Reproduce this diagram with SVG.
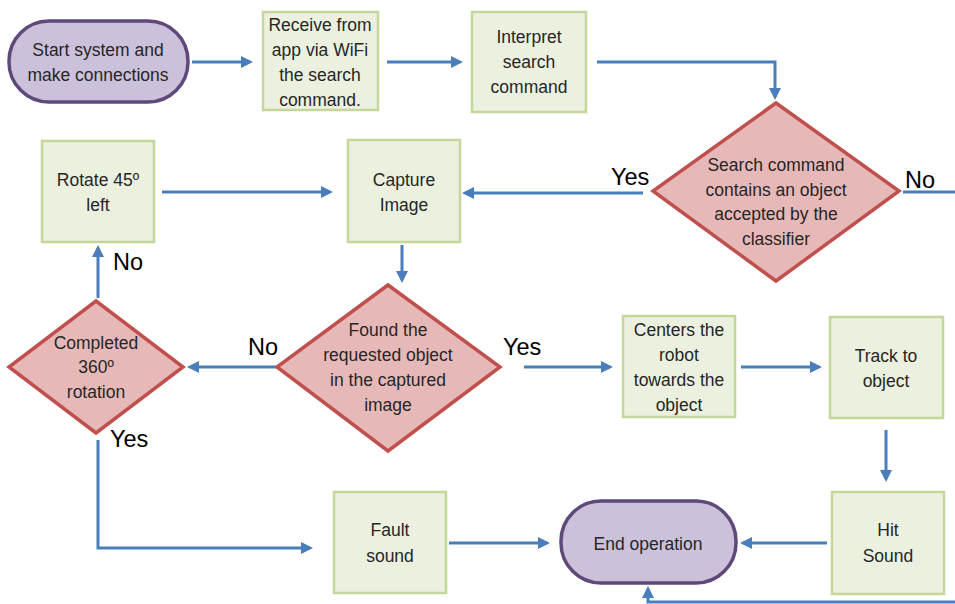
<svg xmlns="http://www.w3.org/2000/svg" width="955" height="604" viewBox="0 0 955 604">
<defs>
<marker id="ah" markerWidth="4" markerHeight="4" refX="3" refY="2" orient="auto" markerUnits="strokeWidth">
<path d="M0,0 L4,2 L0,4 z" fill="#4a7ebb"/>
</marker>
<style>
.box{fill:#ebf1de;stroke:#c3d69b;stroke-width:2.5}
.dia{fill:#e6b9b8;stroke:#c0504d;stroke-width:3.5;stroke-linejoin:miter}
.term{fill:#ccc1da;stroke:#5f497a;stroke-width:3.5}
.t{font-family:"Liberation Sans",Arial,sans-serif;font-size:17.5px;fill:#262626;text-anchor:middle}
.lbl{font-family:"Liberation Sans",Arial,sans-serif;font-size:23.5px;fill:#000}
.c{fill:none;stroke:#4a7ebb;stroke-width:3}
.a{marker-end:url(#ah)}
</style>
</defs>
<rect width="955" height="604" fill="#fff"/>

<g id="connectors">
<path class="c a" d="M192,62 H250"/>
<path class="c a" d="M387,62 H460"/>
<path class="c a" d="M597,62 H775 V97"/>
<path class="c a" d="M643,193 H465"/>
<path class="c" d="M903,192 H955"/>
<path class="c a" d="M162,192 H330"/>
<path class="c a" d="M402,245 V280"/>
<path class="c a" d="M98,298 V248"/>
<path class="c a" d="M280,367 H190"/>
<path class="c a" d="M524,367 H610"/>
<path class="c a" d="M741,367 H819"/>
<path class="c a" d="M886,430 V479"/>
<path class="c a" d="M98,440 V548 H310"/>
<path class="c a" d="M449,543 H547"/>
<path class="c a" d="M827,543 H743"/>
<path class="c a" d="M955,602 H648 V589"/>
</g>

<g id="labels">
<text class="lbl" x="611" y="185">Yes</text>
<text class="lbl" x="905" y="188">No</text>
<text class="lbl" x="113" y="270">No</text>
<text class="lbl" x="248" y="355">No</text>
<text class="lbl" x="503" y="355">Yes</text>
<text class="lbl" x="110" y="447">Yes</text>
</g>

<g id="start">
<rect class="term" x="9" y="21" width="179" height="81" rx="40" ry="40"/>
<text class="t" x="98" y="56">Start system and</text>
<text class="t" x="98" y="81">make connections</text>
</g>

<g id="receive">
<rect class="box" x="263" y="12" width="115" height="98"/>
<text class="t" x="320" y="31">Receive from</text>
<text class="t" x="320" y="56">app via WiFi</text>
<text class="t" x="320" y="81">the search</text>
<text class="t" x="320" y="106">command.</text>
</g>

<g id="interpret">
<rect class="box" x="472" y="12" width="114" height="100"/>
<text class="t" x="529" y="43">Interpret</text>
<text class="t" x="529" y="68">search</text>
<text class="t" x="529" y="93">command</text>
</g>

<g id="decision-classifier">
<polygon class="dia" points="776,103 899,191 776,281 653,191"/>
<text class="t" x="776" y="171">Search command</text>
<text class="t" x="776" y="196">contains an object</text>
<text class="t" x="776" y="220">accepted by the</text>
<text class="t" x="776" y="245">classifier</text>
</g>

<g id="rotate">
<rect class="box" x="42" y="141" width="112" height="101"/>
<text class="t" x="98" y="186">Rotate 45º</text>
<text class="t" x="98" y="211">left</text>
</g>

<g id="capture">
<rect class="box" x="348" y="140" width="112" height="102"/>
<text class="t" x="404" y="186">Capture</text>
<text class="t" x="404" y="211">Image</text>
</g>

<g id="decision-rotation">
<polygon class="dia" points="96,301 183,367 96,433 9,367"/>
<text class="t" x="96" y="349">Completed</text>
<text class="t" x="96" y="373">360º</text>
<text class="t" x="96" y="398">rotation</text>
</g>

<g id="decision-found">
<polygon class="dia" points="388,285 500,367 388,451 277,367"/>
<text class="t" x="388" y="336">Found the</text>
<text class="t" x="388" y="361">requested object</text>
<text class="t" x="388" y="386">in the captured</text>
<text class="t" x="388" y="411">image</text>
</g>

<g id="centers">
<rect class="box" x="623" y="316" width="112" height="101"/>
<text class="t" x="679" y="336">Centers the</text>
<text class="t" x="679" y="361">robot</text>
<text class="t" x="679" y="386">towards the</text>
<text class="t" x="679" y="411">object</text>
</g>

<g id="track">
<rect class="box" x="830" y="317" width="113" height="101"/>
<text class="t" x="886" y="362">Track to</text>
<text class="t" x="886" y="387">object</text>
</g>

<g id="hit">
<rect class="box" x="832" y="492" width="112" height="102"/>
<text class="t" x="888" y="536">Hit</text>
<text class="t" x="888" y="562">Sound</text>
</g>

<g id="fault">
<rect class="box" x="334" y="492" width="112" height="101"/>
<text class="t" x="390" y="536">Fault</text>
<text class="t" x="390" y="562">sound</text>
</g>

<g id="end">
<rect class="term" x="561" y="501" width="175" height="82" rx="40" ry="40"/>
<text class="t" x="648" y="550">End operation</text>
</g>
</svg>
